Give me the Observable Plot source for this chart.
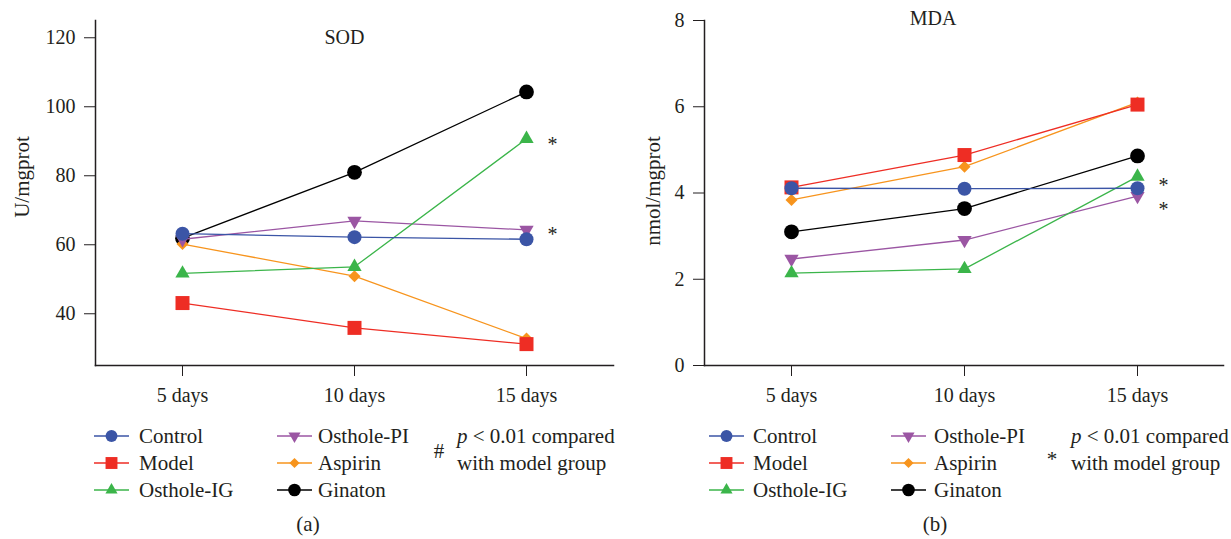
<!DOCTYPE html>
<html><head><meta charset="utf-8">
<script src="https://cdn.jsdelivr.net/npm/d3@7"></script>
<script src="https://cdn.jsdelivr.net/npm/@observablehq/plot@0.6"></script>
<style>
body{margin:0;background:#fff;font-family:"Liberation Serif","Times New Roman",serif;color:#231f20;}
#root{position:relative;width:1231px;height:539px;overflow:hidden;background:#fff;}
.panel{position:absolute;top:0;}
.panel text{font-family:"Liberation Serif","Times New Roman",serif;}
.lg{position:absolute;font-size:21px;white-space:nowrap;line-height:22px;height:22px;}
.lg svg{position:absolute;left:0;top:1px;overflow:visible;}
</style></head><body><div id="root"></div>
<script>
// ---- data ----
const days = ["5 days", "10 days", "15 days"];
const groups = ["Control", "Model", "Osthole-IG", "Osthole-PI", "Aspirin", "Ginaton"];

const sodControl   = [63.2, 62.2, 61.6];
const sodModel     = [43.1, 35.9, 31.2];
const sodOstholeIG = [51.7, 53.6, 90.7];
const sodOstholePI = [61.6, 66.9, 64.3];
const sodAspirin   = [60.2, 50.9, 32.8];
const sodGinaton   = [61.9, 81.0, 104.3];

const mdaControl   = [4.11, 4.10, 4.11];
const mdaModel     = [4.13, 4.88, 6.05];
const mdaOstholeIG = [2.14, 2.24, 4.38];
const mdaOstholePI = [2.47, 2.91, 3.93];
const mdaAspirin   = [3.84, 4.61, 6.10];
const mdaGinaton   = [3.10, 3.64, 4.86];

const sodTicks = [40, 60, 80, 100, 120];
const mdaTicks = [0, 2, 4, 6, 8];
const sodStarValues = [88.9, 62.9];
const mdaStarValues = [4.18, 3.61];

// ---- styles ----
const colors = ["#3b55a6", "#ee2d24", "#3bb54a", "#9b56a3", "#f7941d", "#000000"];
const downTriangle = {draw(context, size) {
  const y = -Math.sqrt(size / (Math.sqrt(3) * 3));
  context.moveTo(0, -y * 2);
  context.lineTo(-Math.sqrt(3) * y, y);
  context.lineTo(Math.sqrt(3) * y, y);
  context.closePath();
}};
const symbols = ["circle", "square", "triangle", downTriangle, "diamond2", "circle"];
const sizes = [7, 7.9, 5.3, 5.3, 5.4, 7.4];
const drawOrder = [5, 4, 3, 2, 1, 0];
const ink = "#231f20";
const serif = "'Liberation Serif', 'Times New Roman', serif";

function panel({values, yDomain, yTicks, width, marginLeft, marginRight, yLabel, labelX, labelDy, title, titleDx, titleDy, starValues}) {
  const marks = [];
  for (const i of drawOrder) {
    const data = days.map((d, j) => ({day: d, value: values[i][j], group: groups[i]}));
    marks.push(Plot.line(data, {x: "day", y: "value", stroke: colors[i], strokeWidth: 1.3}));
    marks.push(Plot.dot(data, {x: "day", y: "value", fill: colors[i], stroke: "none", symbol: symbols[i], r: sizes[i]}));
  }
  const stars = starValues.map(v => ({day: days[2], value: v}));
  return Plot.plot({
    width, height: 410,
    marginLeft, marginRight, marginTop: 20, marginBottom: 45,
    style: {fontFamily: serif, fontSize: "20px", color: ink, background: "transparent"},
    x: {type: "point", domain: days, padding: 0.5},
    y: {domain: yDomain},
    marks: [
      Plot.axisX({tickSize: 11, tickPadding: 11, fontSize: 20, label: null, stroke: ink}),
      Plot.axisY({ticks: yTicks, tickSize: 11, tickPadding: 9, fontSize: 20, label: null, stroke: ink}),
      Plot.frame({anchor: "left", stroke: ink, strokeWidth: 1.5}),
      Plot.frame({anchor: "bottom", stroke: ink, strokeWidth: 1.5}),
      ...marks,
      Plot.text([yLabel], {frameAnchor: "left", textAnchor: "middle", lineAnchor: "middle", rotate: -90, dx: labelX - marginLeft, dy: labelDy, fontSize: 21, fill: ink}),
      Plot.text([title], {frameAnchor: "top", dx: titleDx, dy: titleDy, fontSize: 20, fill: ink}),
      Plot.text(stars, {x: "day", y: "value", text: () => "*", dx: 26, fontSize: 20, fill: ink})
    ]
  });
}

const root = document.getElementById("root");
const left = panel({
  values: [sodControl, sodModel, sodOstholeIG, sodOstholePI, sodAspirin, sodGinaton],
  yDomain: [25, 125], yTicks: sodTicks, width: 615, marginLeft: 95, marginRight: 2,
  yLabel: "U/mgprot", labelX: 22, labelDy: -16, title: "SOD", titleDx: -10, titleDy: 9, starValues: sodStarValues
});
left.classList.add("panel"); left.style.left = "0px";
root.appendChild(left);
const right = panel({
  values: [mdaControl, mdaModel, mdaOstholeIG, mdaOstholePI, mdaAspirin, mdaGinaton],
  yDomain: [0, 8], yTicks: mdaTicks, width: 616, marginLeft: 89, marginRight: 8,
  yLabel: "nmol/mgprot", labelX: 38, labelDy: -2, title: "MDA", titleDx: -31, titleDy: -10, starValues: mdaStarValues
});
right.classList.add("panel"); right.style.left = "615px";
root.appendChild(right);

// ---- legends ----
function addDiv(x, yc, html) {
  const d = document.createElement("div");
  d.className = "lg";
  d.style.left = x + "px";
  d.style.top = (yc - 11) + "px";
  d.innerHTML = html;
  root.appendChild(d);
  return d;
}
function legendItem(i, x, textX, yc) {
  const d = addDiv(x, yc, "");
  d.style.width = "36px";
  const svg = d3.select(d).append("svg").attr("width", 36).attr("height", 20);
  svg.append("line").attr("x1", 0).attr("x2", 35).attr("y1", 10).attr("y2", 10)
    .attr("stroke", colors[i]).attr("stroke-width", 1.3);
  const r = sizes[i] * 0.85;
  const type = typeof symbols[i] === "string"
    ? {circle: d3.symbolCircle, square: d3.symbolSquare, triangle: d3.symbolTriangle, diamond2: d3.symbolDiamond2}[symbols[i]]
    : symbols[i];
  svg.append("path").attr("transform", "translate(17.5,10)")
    .attr("d", d3.symbol(type, r * r * Math.PI)()).attr("fill", colors[i]);
  addDiv(textX, yc, groups[i]);
}
const rows = [436, 463, 490];
function legend(c1, t1, c2, t2, markX, markChar, markY, noteX, caption, capX) {
  [0, 1, 2].forEach(k => legendItem(k, c1, t1, rows[k]));
  [3, 4, 5].forEach(k => legendItem(k, c2, t2, rows[k - 3]));
  const m = addDiv(markX, markY, markChar);
  m.style.transform = "translateX(-50%)";
  addDiv(noteX, rows[0], "<i>p</i> &lt; 0.01 compared");
  addDiv(noteX, rows[1], "with model group");
  const c = addDiv(capX, 524, caption);
  c.style.transform = "translateX(-50%)";
}
legend(94, 139, 277, 318, 439, "#", 451, 457, "(a)", 308);
legend(709, 753, 891, 934, 1052, "*", 459, 1071, "(b)", 935);
</script>
</body></html>
